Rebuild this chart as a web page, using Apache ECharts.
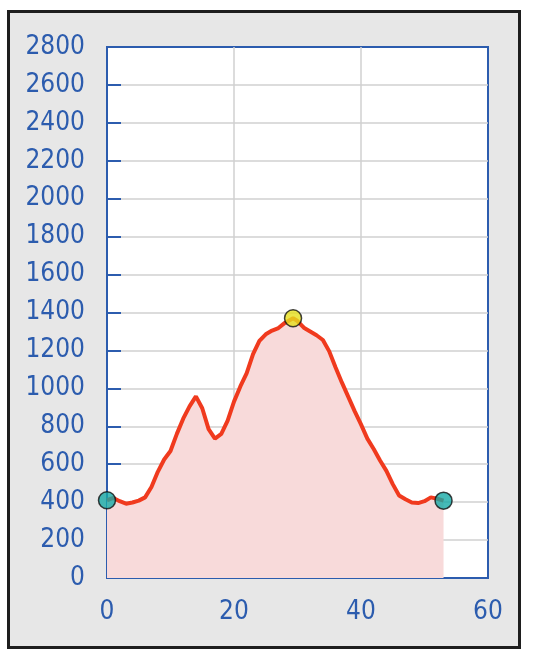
<!DOCTYPE html>
<html>
<head>
<meta charset="utf-8">
<script src="https://cdn.jsdelivr.net/npm/echarts@6/dist/echarts.min.js"></script>
<style>
html,body{margin:0;padding:0;background:#ffffff;}
#chart{width:533px;height:664px;}
</style>
</head>
<body>
<div id="chart"></div>
<script>
// Distance (x) values
var distance = [0,1,2,3,4,5,6,7,8,9,10,11,12,13,14,15,16,17,18,19,20,21,22,23,24,25,26,27,28,29.3,30,31,32,33,34,35,36,37,38,39,40,41,42,43,44,45,46,47,48,49,50,51,52,53];
// Elevation values
var elevation = [410,422,405,392,398,408,425,480,560,625,670,760,840,905,958,895,785,735,760,830,930,1010,1080,1180,1250,1285,1305,1318,1345,1370,1355,1320,1300,1280,1255,1195,1110,1030,955,880,810,735,680,620,565,495,435,415,398,395,405,425,418,408];
var yTicks = [0,200,400,600,800,1000,1200,1400,1600,1800,2000,2200,2400,2600,2800];
var xTicks = [0,20,40,60];

var blue = '#2c5cae';
var font = '"DejaVu Sans Condensed", "DejaVu Sans", sans-serif';
var lineData = distance.map(function(d,i){return [d, elevation[i]];});
var maxIdx = 0;
elevation.forEach(function(v,i){ if (v > elevation[maxIdx]) maxIdx = i; });
var markerData = [
  {value:[distance[0], elevation[0]], itemStyle:{color:'#17aaa6'}},
  {value:[distance[maxIdx], elevation[maxIdx]], itemStyle:{color:'#e6df1c'}},
  {value:[distance[distance.length-1], elevation[elevation.length-1]], itemStyle:{color:'#17aaa6'}}
];

var chart = echarts.init(document.getElementById('chart'), null, {renderer:'canvas'});
chart.setOption({
  animation:false,
  backgroundColor:'#ffffff',
  graphic:[{
    type:'rect', z:-100, silent:true,
    shape:{x:8.5, y:11.5, width:511, height:636},
    style:{fill:'#e7e7e7', stroke:'#1e1e1e', lineWidth:3}
  }],
  grid:{left:107, top:47, width:381, height:531, show:true, backgroundColor:'#ffffff', borderColor:blue, borderWidth:2},
  xAxis:{
    type:'value', min:xTicks[0], max:xTicks[xTicks.length-1], interval:20,
    axisLine:{show:true, lineStyle:{color:blue, width:2}},
    axisTick:{show:true, inside:true, length:13, lineStyle:{color:blue, width:2}},
    axisLabel:{color:blue, fontFamily:font, fontSize:26, margin:21, formatter:function(v){return String(v);}},
    splitLine:{show:true, showMinLine:false, showMaxLine:false, lineStyle:{color:'#d0d0d0', width:1.5}}
  },
  yAxis:{
    type:'value', min:yTicks[0], max:yTicks[yTicks.length-1], interval:200,
    axisLine:{show:true, lineStyle:{color:blue, width:2}},
    axisTick:{show:true, inside:true, length:14, lineStyle:{color:blue, width:2}},
    axisLabel:{color:blue, fontFamily:font, fontSize:26, margin:22, formatter:function(v){return String(v);}},
    splitLine:{show:true, showMinLine:false, showMaxLine:false, lineStyle:{color:'#d0d0d0', width:1.5}}
  },
  series:[{
    type:'line', data:lineData, showSymbol:false, symbol:'none',
    lineStyle:{color:'#f03a1e', width:4},
    areaStyle:{color:'#f8dada', opacity:1}
  },{
    type:'scatter', data:markerData, symbolSize:17, z:5,
    itemStyle:{borderColor:'#111111', borderWidth:1.5}
  }]
});
</script>
</body>
</html>
